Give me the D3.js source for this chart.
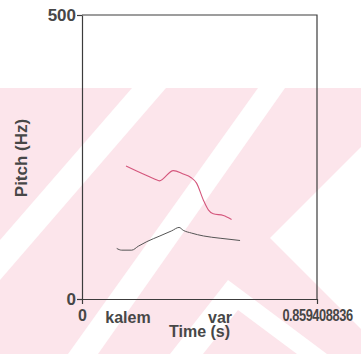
<!DOCTYPE html>
<html>
<head>
<meta charset="utf-8">
<script src="https://cdn.jsdelivr.net/npm/d3@7"></script>
<style>
  html, body { margin: 0; padding: 0; background: #ffffff; }
  svg { display: block; }
  text { font-family: "Liberation Sans", Arial, sans-serif; font-weight: bold; fill: #474747; }
</style>
</head>
<body>
<svg id="chart" width="361" height="354"></svg>
<script>
// ---- data ----
const timeDomain = [0, 0.859408836];
const pitchDomain = [0, 500];
const xTickValues = [0, 0.859408836];
const xTickLabels = ["0", "0.859408836"];
const yTickValues = [0, 500];
const yTickLabels = ["0", "500"];
const words = ["kalem", "var"];
const wordTimes = [0.168, 0.505];
const redTimes  = [0.161, 0.267, 0.283, 0.334, 0.370, 0.398, 0.419, 0.444, 0.462, 0.480, 0.517, 0.547];
const redPitch  = [234, 211, 208, 226, 220, 214, 204, 174, 157, 150, 147, 140];
const blackTimes = [0.127, 0.145, 0.182, 0.206, 0.237, 0.285, 0.328, 0.355, 0.370, 0.401, 0.444, 0.505, 0.578];
const blackPitch = [89, 86, 86, 93, 101, 111, 120, 126, 121, 116, 111, 107, 103];
const xTitle = "Time (s)";
const yTitle = "Pitch (Hz)";

// ---- layout ----
const W = 361, H = 354;
const plot = { left: 82, right: 317, top: 15, bottom: 299 };
const svg = d3.select("#chart");

// background scan watermark (decoration)
const pink = "#fce5eb";
svg.append("rect").attr("x", 0).attr("y", 88).attr("width", W).attr("height", H - 88).attr("fill", pink);
const whiteShapes = [
  [[132,88],[166,88],[0,280],[0,240]],
  [[258,88],[285,88],[98,354],[68,354]],
  [[270,238],[361,147],[361,329]],
  [[170,354],[228,280],[327,354],[297,354],[238,310],[203,354]]
];
svg.append("g").selectAll("polygon").data(whiteShapes).join("polygon")
  .attr("points", d => d.map(p => p.join(",")).join(" "))
  .attr("fill", "#ffffff");

const x = d3.scaleLinear().domain(timeDomain).range([plot.left, plot.right]);
const y = d3.scaleLinear().domain(pitchDomain).range([plot.bottom, plot.top]);

const frameColor = "#3c3c3c";

// y axis
const yAxis = d3.axisLeft(y).tickValues(yTickValues)
  .tickFormat((d, i) => yTickLabels[i]).tickSize(5).tickSizeOuter(0).tickPadding(1);
const gy = svg.append("g").attr("transform", `translate(${plot.left},0)`).call(yAxis);
gy.selectAll("path, line").attr("stroke", frameColor).attr("stroke-width", 1.2);
gy.selectAll("text").style("font-size", "17px").attr("fill", "#474747");

// x axis
const xAxis = d3.axisBottom(x).tickValues(xTickValues)
  .tickFormat((d, i) => xTickLabels[i]).tickSize(5).tickSizeOuter(0).tickPadding(6);
const gx = svg.append("g").attr("transform", `translate(0,${plot.bottom})`).call(xAxis);
gx.selectAll("path, line").attr("stroke", frameColor).attr("stroke-width", 1.2);
gx.selectAll("text").style("font-size", "16px").attr("fill", "#474747");
gx.selectAll("text").filter((d, i) => i === 1)
  .attr("transform", "scale(0.8,1)").style("letter-spacing", "-0.5px");

// top & right frame edges
svg.append("path")
  .attr("d", d3.line()([[x(timeDomain[0]), y(pitchDomain[1])], [x(timeDomain[1]), y(pitchDomain[1])], [x(timeDomain[1]), y(pitchDomain[0])]]))
  .attr("fill", "none").attr("stroke", frameColor).attr("stroke-width", 1.2);

// pitch contours
const line = d3.line().x(d => x(d[0])).y(d => y(d[1])).curve(d3.curveMonotoneX);
svg.append("path").datum(redTimes.map((t, i) => [t, redPitch[i]]))
  .attr("d", line).attr("fill", "none").attr("stroke", "#d4567c").attr("stroke-width", 1.1);
svg.append("path").datum(blackTimes.map((t, i) => [t, blackPitch[i]]))
  .attr("d", line).attr("fill", "none").attr("stroke", "#555555").attr("stroke-width", 1);

// word labels
svg.append("g").selectAll("text").data(words).join("text")
  .attr("x", (d, i) => x(wordTimes[i])).attr("y", 323)
  .attr("text-anchor", "middle").style("font-size", "16px").text(d => d);

// axis titles
svg.append("text").attr("x", (plot.left + plot.right) / 2).attr("y", 337)
  .attr("text-anchor", "middle").style("font-size", "16px").text(xTitle);
svg.append("text").attr("transform", `translate(27,${(plot.top + plot.bottom) / 2 + 1}) rotate(-90)`)
  .attr("text-anchor", "middle").style("font-size", "17px").text(yTitle);
</script>
</body>
</html>
